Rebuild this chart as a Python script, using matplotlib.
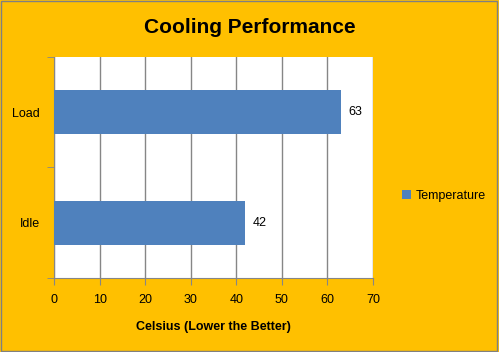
import matplotlib
matplotlib.use("Agg")
from matplotlib import pyplot as plt
from matplotlib.patches import Rectangle

categories = ["Idle", "Load"]
temperature = [42, 63]
series_name = "Temperature"
x_ticks = [0, 10, 20, 30, 40, 50, 60, 70]

plt.rcParams['font.family'] = ['Liberation Sans', 'DejaVu Sans']

bg = '#FFC000'
bar_color = '#4F81BD'
grid_color = '#868686'

fig = plt.figure(figsize=(4.99, 3.52), dpi=100)
fig.patch.set_facecolor(bg)
fig.patches.append(Rectangle((0.003, 0.004), 0.993, 0.992, transform=fig.transFigure,
                             fill=False, edgecolor='#808080', linewidth=1))

ax = fig.add_axes([0.1082, 0.2102, 0.6393, 0.628])
ax.set_facecolor('white')

ypos = list(range(len(categories)))
bars = ax.barh(ypos, temperature, height=0.4, color=bar_color, label=series_name, zorder=3)

ax.set_xlim(0, 70)
ax.set_ylim(-0.5, 1.5)
ax.set_xticks(x_ticks)
ax.set_xticklabels([str(t) for t in x_ticks], fontsize=9)
ax.set_yticks(ypos)
ax.set_yticklabels(categories, fontsize=9)
ax.tick_params(axis='y', length=0, pad=10)
ax.set_yticks([-0.5, 0.5, 1.5], minor=True)
ax.tick_params(axis='y', which='minor', length=5, color=grid_color, direction='out')
ax.tick_params(axis='x', length=5, color=grid_color, direction='out', pad=6.5)

ax.xaxis.grid(True, color=grid_color, linewidth=1, zorder=0)
ax.set_axisbelow(True)
for side in ['top', 'right']:
    ax.spines[side].set_visible(False)
for side in ['left', 'bottom']:
    ax.spines[side].set_color(grid_color)

for bar, v in zip(bars, temperature):
    ax.text(bar.get_width() + 1.7, bar.get_y() + bar.get_height() / 2, str(v),
            va='center', ha='left', fontsize=9)

ax.set_xlabel('Celsius (Lower the Better)', fontsize=9, fontweight='bold', labelpad=11)

fig.text(0.5, 0.923, 'Cooling Performance', ha='center', va='center',
         fontsize=15, fontweight='bold')

fig.legend(loc='center left', bbox_to_anchor=(0.783, 0.443), frameon=False,
           fontsize=9, handlelength=0.7, handleheight=0.7, handletextpad=0.4)

fig.savefig('out.png', dpi=100, facecolor=bg)
